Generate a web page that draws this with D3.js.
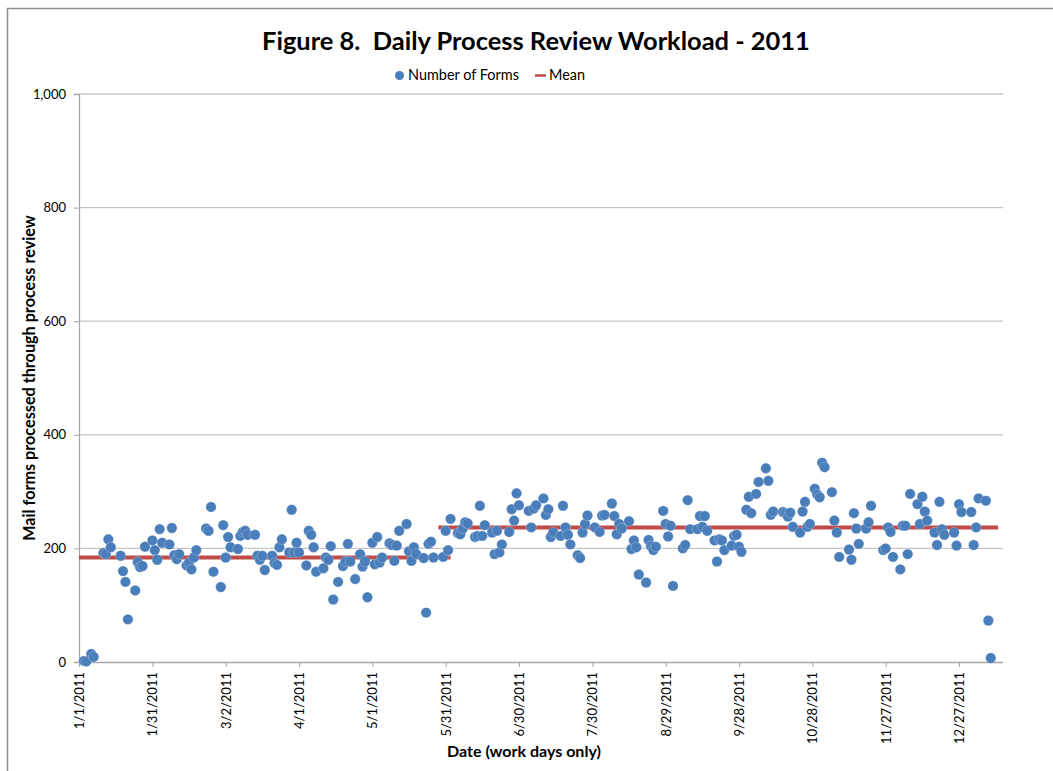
<!DOCTYPE html>
<html>
<head>
<meta charset="utf-8">
<script src="https://cdn.jsdelivr.net/npm/d3@7"></script>
<style>
  html, body { margin: 0; padding: 0; background: #fff; }
  svg text { font-family: Lato, "Open Sans", sans-serif; fill: #000; }
</style>
</head>
<body>
<svg id="chart" width="1053" height="771"></svg>
<script>
// ---------------- DATA ----------------
// Day offset from 1 Jan 2011 for each work day plotted
const dayOffsets = [
  2,3,5,6,10,11,12,13,17,18,19,20,23,24,25,26,27,30,31,32,33,34,37,38,39,40,41,44,45,46,47,48,
  52,53,54,55,58,59,60,61,62,65,66,67,68,69,72,73,74,75,76,79,80,81,82,83,86,87,88,89,90,
  93,94,95,96,97,100,101,102,103,104,106,108,109,110,111,113,115,116,117,118,
  120,121,122,123,124,127,128,129,130,131,134,135,136,137,138,141,142,143,144,145,
  149,150,151,152,155,156,157,158,159,162,163,164,165,166,169,170,171,172,173,
  176,177,178,179,180,184,185,186,187,190,191,192,193,194,197,198,199,200,201,
  204,205,206,207,208,211,213,214,215,218,219,220,221,222,225,226,227,228,229,
  232,233,234,235,236,239,240,241,242,243,247,248,249,250,253,254,255,256,257,
  260,261,262,263,264,267,268,269,270,271,273,274,275,277,278,281,282,283,284,
  288,289,290,291,292,295,296,297,298,299,301,302,303,304,305,308,309,310,311,
  315,316,317,318,319,322,323,324,329,330,331,332,333,336,337,338,339,340,
  343,344,345,346,347,350,351,352,353,354,358,359,360,361,365,366,367,368,371,372,373
];
// Number of forms processed each day
const formCounts = [
  2,1,14,9,192,190,216,202,187,160,141,75,126,176,167,169,203,214,197,180,234,210,207,236,188,181,190,170,175,163,184,197,
  235,231,273,159,132,241,184,220,202,199,222,229,231,224,224,187,180,187,162,187,174,171,202,216,193,268,193,210,193,
  170,231,224,202,159,165,184,180,204,110,141,169,177,208,177,146,190,168,177,114,
  210,172,220,175,184,209,206,178,205,231,243,195,178,202,190,183,87,208,212,184,
  185,231,197,252,227,225,235,246,244,220,222,275,222,241,228,190,231,193,207,
  229,269,249,297,276,266,237,270,276,288,259,269,220,228,222,275,237,224,207,
  188,183,228,243,258,237,229,258,259,279,257,225,243,235,248,199,214,202,154,
  140,215,204,197,203,266,243,221,240,134,200,206,285,234,234,257,238,257,231,
  214,177,216,214,197,205,222,224,203,194,268,291,262,296,317,341,319,259,265,
  264,262,256,263,238,228,265,282,238,243,305,295,290,351,343,299,249,228,185,
  198,180,262,235,208,235,246,275,197,200,237,229,185,163,240,240,190,296,
  278,243,291,265,249,228,206,282,234,224,228,205,278,264,264,206,237,288,284,73,7
];
// Mean line segments: start day, end day, mean value
const meanStartDays = [0, 147];
const meanEndDays = [152, 376];
const meanValues = [184, 237];

const yTickValues = [0, 200, 400, 600, 800, 1000];
const xTickDays = [0, 30, 60, 90, 120, 150, 180, 210, 240, 270, 300, 330, 360];

const titleText = "Figure 8.  Daily Process Review Workload - 2011";
const seriesNames = ["Number of Forms", "Mean"];
const yTitle = "Mail forms processed through process review";
const xTitle = "Date (work days only)";

// ---------------- CHART ----------------
const startDate = new Date(2011, 0, 1);
const endDate = new Date(2012, 0, 14);
const dayToDate = d => d3.timeDay.offset(startDate, d);

const svg = d3.select("#chart");
const plotL = 79, plotR = 1003, plotT = 94, plotB = 662;

const x = d3.scaleTime().domain([startDate, endDate]).range([plotL, plotR]);
const y = d3.scaleLinear().domain([0, 1000]).range([plotB, plotT]);

const blue = "#4a7ebb";
const red = "#be4b48";

// outer border
svg.append("rect").attr("x", 7.5).attr("y", 8.5).attr("width", 1100).attr("height", 900)
  .attr("fill", "none").attr("stroke", "#8c8c8c").attr("stroke-width", 1.5);

function fit(sel, target) {
  const fs = parseFloat(sel.attr("font-size"));
  const w = sel.node().getComputedTextLength();
  if (w > 0) sel.attr("font-size", (fs * target / w).toFixed(2));
}

// gridlines
svg.append("g").selectAll("line").data(yTickValues.filter(v => v > 0)).join("line")
  .attr("x1", plotL).attr("x2", plotR)
  .attr("y1", d => y(d)).attr("y2", d => y(d))
  .attr("stroke", "#c6c6c6").attr("stroke-width", 1.3);

// y axis
const yAxis = svg.append("g").attr("transform", `translate(${plotL},0)`)
  .call(d3.axisLeft(y).tickValues(yTickValues).tickSize(5).tickPadding(8).tickFormat(d3.format(",")));
yAxis.select(".domain").attr("stroke", "#a6a6a6").attr("stroke-width", 1.3);
yAxis.selectAll(".tick line").attr("stroke", "#a6a6a6");
yAxis.selectAll("text").attr("font-size", 13).attr("font-family", "Lato, sans-serif").attr("fill", "#000");

// x axis
const xAxis = svg.append("g").attr("transform", `translate(0,${plotB})`)
  .call(d3.axisBottom(x).tickValues(xTickDays.map(dayToDate)).tickSize(5)
    .tickFormat(d3.timeFormat("%-m/%-d/%Y")));
xAxis.select(".domain").attr("stroke", "#a6a6a6").attr("stroke-width", 1.3)
  .attr("d", `M${plotL},0.5H${plotR}`);
xAxis.selectAll(".tick line").attr("stroke", "#a6a6a6");
xAxis.selectAll("text")
  .attr("font-size", 13).attr("font-family", "Lato, sans-serif").attr("fill", "#000")
  .attr("text-anchor", "end")
  .attr("transform", "rotate(-90)")
  .attr("x", -10).attr("y", 0).attr("dy", "0.35em");

// mean lines
svg.append("g").selectAll("line").data(meanValues).join("line")
  .attr("x1", (d, i) => x(dayToDate(meanStartDays[i])))
  .attr("x2", (d, i) => x(dayToDate(meanEndDays[i])))
  .attr("y1", d => y(d)).attr("y2", d => y(d))
  .attr("stroke", red).attr("stroke-width", 4);

// points
svg.append("g").selectAll("circle").data(formCounts).join("circle")
  .attr("cx", (d, i) => x(dayToDate(dayOffsets[i])))
  .attr("cy", d => y(d))
  .attr("r", 5.2)
  .attr("fill", blue)
  .attr("stroke", "#ffffff").attr("stroke-width", 0.4).attr("stroke-opacity", 0.6);

// title
const t = svg.append("text").attr("x", 536).attr("y", 50).attr("text-anchor", "middle")
  .attr("font-weight", "bold").attr("font-size", 26).style("white-space", "pre")
  .text(titleText);
fit(t, 548);

// legend
svg.append("circle").attr("cx", 399.5).attr("cy", 75.5).attr("r", 4.5).attr("fill", blue);
const l1 = svg.append("text").attr("x", 408).attr("y", 80).attr("font-size", 13).text(seriesNames[0]);
fit(l1, 111);
svg.append("line").attr("x1", 535).attr("x2", 546).attr("y1", 75.5).attr("y2", 75.5)
  .attr("stroke", red).attr("stroke-width", 2.5);
const l2 = svg.append("text").attr("x", 549).attr("y", 80).attr("font-size", 13).text(seriesNames[1]);
fit(l2, 36);

// axis titles
const yt = svg.append("text").attr("transform", "translate(35,378) rotate(-90)")
  .attr("text-anchor", "middle").attr("font-weight", "bold").attr("font-size", 14)
  .text(yTitle);
fit(yt, 326);
const xt = svg.append("text").attr("x", 524).attr("y", 757).attr("text-anchor", "middle")
  .attr("font-weight", "bold").attr("font-size", 14).text(xTitle);
fit(xt, 154);
</script>
</body>
</html>
